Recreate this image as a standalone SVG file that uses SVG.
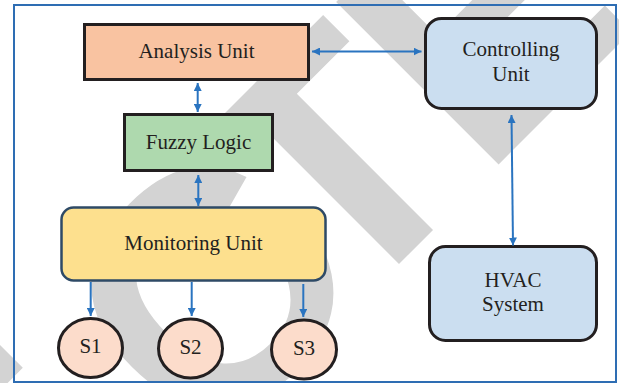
<svg xmlns="http://www.w3.org/2000/svg" width="619" height="383" viewBox="0 0 619 383">
  <defs>
    <marker id="head" viewBox="0 0 8 8" refX="8" refY="4" markerWidth="8" markerHeight="8" markerUnits="userSpaceOnUse" orient="auto-start-reverse">
      <path d="M0,0 L8,4 L0,8 z" fill="#2a74c0"/>
    </marker>
    <style>
      .lbl { font-family: "Liberation Serif", "Times New Roman", serif; font-size: 21px; fill: #231f20; text-anchor: middle; }
      .box { stroke: #231f20; stroke-width: 3; }
      .link { stroke: #2a74c0; stroke-width: 2; fill: none; }
      .sensor { fill: #fcdccb; stroke: #231f20; stroke-width: 3; }
    </style>
  </defs>

  <rect width="619" height="383" fill="#ffffff"/>

  <!-- light grey diagonal watermark behind the diagram -->
  <g id="watermark" transform="translate(331.5 331.5) rotate(-45)">
    <text font-family="Liberation Sans, Arial, sans-serif" font-weight="bold" font-size="334" fill="#d3d3d3"><tspan x="-447">E</tspan><tspan x="-180">C</tspan><tspan x="17.5">T</tspan><tspan x="214">E</tspan></text>
  </g>

  <!-- frame -->
  <rect x="14" y="5" width="602" height="377" fill="none" stroke="#2e6db3" stroke-width="2"/>

  <g id="analysis">
    <rect class="box" x="84.5" y="24.5" width="224" height="55" fill="#f9c3a1"/>
    <text class="lbl" x="196.5" y="57.5">Analysis Unit</text>
  </g>

  <g id="fuzzy">
    <rect class="box" x="124.5" y="114.5" width="148" height="56" fill="#aed9ae"/>
    <text class="lbl" x="198.5" y="148.5">Fuzzy Logic</text>
  </g>

  <g id="monitoring">
    <rect x="61.5" y="207.5" width="264" height="73" rx="12" fill="#fde08e" stroke="#2e4a66" stroke-width="2.5"/>
    <text class="lbl" x="193.5" y="250">Monitoring Unit</text>
  </g>

  <g id="controlling">
    <rect class="box" x="425.5" y="18.5" width="171" height="90" rx="16" fill="#cbdef0"/>
    <text class="lbl" x="511" y="56">Controlling</text>
    <text class="lbl" x="511" y="81">Unit</text>
  </g>

  <g id="hvac">
    <rect class="box" x="429.5" y="246.5" width="167" height="94" rx="16" fill="#cbdef0"/>
    <text class="lbl" x="513" y="287">HVAC</text>
    <text class="lbl" x="513" y="311">System</text>
  </g>

  <g id="s1">
    <ellipse class="sensor" cx="90.5" cy="348" rx="32" ry="29.5"/>
    <text class="lbl" x="90.5" y="353">S1</text>
  </g>
  <g id="s2">
    <ellipse class="sensor" cx="190.5" cy="348.5" rx="32" ry="29.5"/>
    <text class="lbl" x="190.5" y="353.5">S2</text>
  </g>
  <g id="s3">
    <ellipse class="sensor" cx="304" cy="349.5" rx="32.5" ry="29.5"/>
    <text class="lbl" x="304" y="355">S3</text>
  </g>

  <g id="connectors">
    <line class="link" x1="312" y1="51.5" x2="421.5" y2="51.5" marker-start="url(#head)" marker-end="url(#head)"/>
    <line class="link" x1="197.7" y1="83" x2="197.7" y2="112" marker-start="url(#head)" marker-end="url(#head)"/>
    <line class="link" x1="198.3" y1="175" x2="198.3" y2="206" marker-start="url(#head)" marker-end="url(#head)"/>
    <line class="link" x1="511.5" y1="115" x2="513" y2="245.5" marker-start="url(#head)" marker-end="url(#head)"/>
    <line class="link" x1="90.7" y1="282" x2="90.7" y2="316" marker-end="url(#head)"/>
    <line class="link" x1="191.7" y1="282" x2="191.7" y2="316" marker-end="url(#head)"/>
    <line class="link" x1="303.3" y1="284" x2="303.3" y2="317" marker-end="url(#head)"/>
  </g>
</svg>
